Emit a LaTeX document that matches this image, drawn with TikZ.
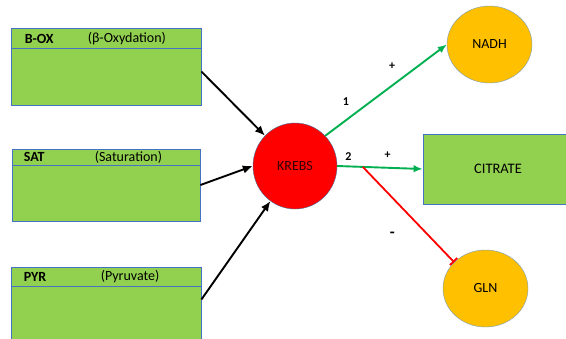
\documentclass[tikz,border=0pt]{standalone}
\usepackage{fontspec}
\setmainfont{Carlito}
\usetikzlibrary{shapes.geometric, arrows.meta, positioning, calc}
\definecolor{boxgreen}{HTML}{92D050}
\definecolor{boxblue}{HTML}{4472C4}
\definecolor{rimblue}{HTML}{41719C}
\definecolor{arrgreen}{HTML}{00B050}
\definecolor{nodeorange}{HTML}{FFC000}

\begin{document}
\begin{tikzpicture}[x=1pt, y=-1pt]
    \tikzstyle{source} = [rectangle, draw=boxblue, line width=0.8pt, fill=boxgreen, minimum width=190pt, inner sep=0pt]
    \tikzstyle{hdr} = [anchor=west, font=\fontsize{14}{16}\selectfont, inner sep=0pt]
    \tikzstyle{hdrbold} = [hdr, font=\bfseries\fontsize{14}{16}\selectfont]
    \tikzstyle{divider} = [draw=boxblue, line width=0.8pt]
    \tikzstyle{hub} = [ellipse, draw=rimblue, fill=red, minimum width=84pt, minimum height=86pt, text=black!80!red, font=\fontsize{14}{16}\selectfont]
    \tikzstyle{product} = [ellipse, draw=rimblue!70, fill=nodeorange, minimum width=85pt, minimum height=77pt, font=\fontsize{14}{16}\selectfont]
    \tikzstyle{feed} = [draw, -{Latex[length=10pt,width=8.5pt]}, line width=1.9pt]
    \tikzstyle{push} = [draw=arrgreen, -{Latex[length=9pt,width=7.5pt]}, line width=1.9pt]
    \tikzstyle{block} = [draw=red, -{Bar[width=10pt]}, line width=1.8pt]
    \tikzstyle{sign} = [font=\bfseries\fontsize{12}{14}\selectfont, inner sep=0pt]

    \useasboundingbox (0,0) rectangle (566,338);

    % input boxes
    \node [source, minimum height=77pt] (boxox) at (106,66.5) {};
    \node [source, minimum height=72pt, minimum width=188pt] (boxsat) at (106,185) {};
    \node [source, minimum height=73pt] (boxpyr) at (106,303.5) {};

    \path [divider] ([yshift=-21pt]boxox.north west) -- ([yshift=-21pt]boxox.north east);
    \path [divider] ([yshift=-17pt]boxsat.north west) -- ([yshift=-17pt]boxsat.north east);
    \path [divider] ([yshift=-20pt]boxpyr.north west) -- ([yshift=-20pt]boxpyr.north east);

    \node [hdrbold] (oxname) at ([xshift=14pt, yshift=-11pt]boxox.north west) {B-OX};
    \node [hdr] (oxfull) at ([xshift=77pt, yshift=-11pt]boxox.north west) {(β-Oxydation)};
    \node [hdrbold] (satname) at ([xshift=12pt, yshift=-8.5pt]boxsat.north west) {SAT};
    \node [hdr] (satfull) at ([xshift=83pt, yshift=-8.5pt]boxsat.north west) {(Saturation)};
    \node [hdrbold] (pyrname) at ([xshift=13pt, yshift=-10pt]boxpyr.north west) {PYR};
    \node [hdr] (pyrfull) at ([xshift=90pt, yshift=-10pt]boxpyr.north west) {(Pyruvate)};

    % cycle and products
    \node [hub] (krebs) at (295,166) {KREBS};
    \node [product] (nadh) at (489.5,44.5) {NADH};
    \node [rectangle, draw=boxblue, line width=0.8pt, fill=boxgreen, minimum width=150pt, minimum height=70pt, font=\fontsize{14.5}{16}\selectfont] (citrate) at (498,169) {CITRATE};
    \node [product] (gln) at (485.5,288.5) {GLN};

    \path [feed] ([yshift=-5pt]boxox.east) -- (krebs);
    \path [feed] (boxsat.east) -- (krebs.west);
    \path [feed] ([yshift=4pt]boxpyr.east) -- (krebs);

    \path [push] (krebs.45) -- node [sign, pos=0.17, above=14pt] (one) {1} node [sign, pos=0.55, above=15pt] (plusone) {+} (nadh.west);
    \path [push] (krebs.east) -- node [sign, pos=0.13, above=5pt] (two) {2} node [sign, pos=0.59, above=8pt] (plustwo) {+} (citrate.west);
    \coordinate (fork) at ($(krebs.east)!0.3!(citrate.west)$);
    \path [block] (fork) -- node [sign, pos=0.71, left=32pt, font=\bfseries\fontsize{16}{16}\selectfont] (minus) {-} (gln.140);
\end{tikzpicture}
\end{document}
